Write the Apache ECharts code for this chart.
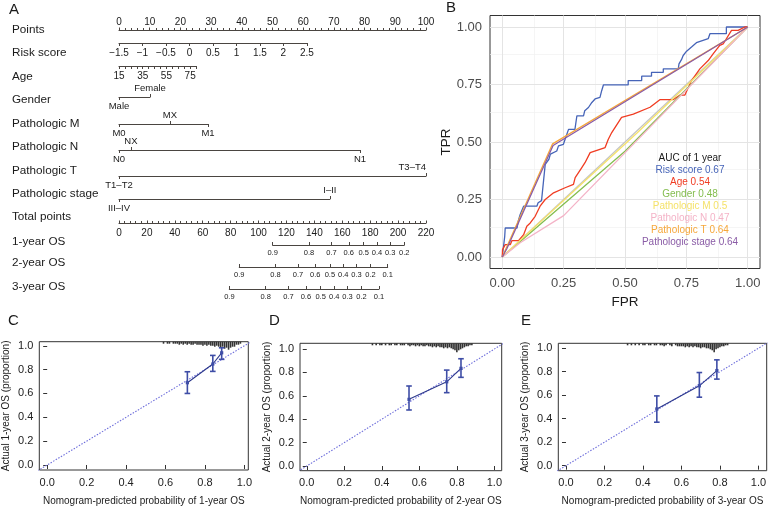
<!DOCTYPE html>
<html><head><meta charset="utf-8">
<script src="https://cdn.jsdelivr.net/npm/echarts@6/dist/echarts.min.js"></script>
<style>html,body{margin:0;padding:0;background:#fff}#c{width:771px;height:509px}</style>
</head><body><div id="c"></div>
<script>
// ================= DATA =================
// --- Nomogram (A) ---
const nomoRowNames = ['Points','Risk score','Age','Gender','Pathologic M','Pathologic N','Pathologic T','Pathologic stage','Total points','1-year OS','2-year OS','3-year OS'];
const pointsRange = [0, 100];
const riskRange = [-1.5, 2.5];
const riskPointsSpan = [0, 61.2];
const ageRange = [15, 80];
const agePointsSpan = [0, 25.1];
const ageLabelValues = [15, 35, 55, 75];
const genderCats = ['Male', 'Female'];
const genderPts = [0, 10.1];
const mCats = ['M0', 'MX', 'M1'];
const mPts = [0, 16.6, 29.0];
const nCats = ['N0', 'NX', 'N1'];
const nPts = [0, 3.9, 78.5];
const tCats = ['T1–T2', 'T3–T4'];
const tPts = [0, 100];
const stageCats = ['III–IV', 'I–II'];
const stagePts = [0, 68.7];
const totalRange = [0, 220];
const osLabels = ['0.9','0.8','0.7','0.6','0.5','0.4','0.3','0.2','0.1'];
const os1Pts = [110.1, 136.1, 152.3, 164.7, 175.3, 184.9, 194.3, 204.4];
const os2Pts = [86.2, 112.1, 128.3, 140.6, 151.1, 160.7, 170.2, 180.2, 192.5];
const os3Pts = [79.1, 105.1, 121.4, 133.9, 144.5, 154.3, 163.7, 173.8, 186.3];

// --- ROC (B) ---
const rocNames = ['Risk score','Age','Gender','Pathologic M','Pathologic N','Pathologic T','Pathologic stage'];
const rocAUC = ['0.67','0.54','0.48','0.5','0.47','0.64','0.64'];
const rocTicks = [0, 0.25, 0.5, 0.75, 1];
const rocMinorTicks = [0.125, 0.375, 0.625, 0.875];
const rocRef = [[0,0],[1,1]];
const rocRisk = [[0,0],[0.01,0.09],[0.012,0.126],[0.06,0.126],[0.066,0.16],[0.073,0.185],[0.087,0.221],[0.141,0.221],[0.146,0.236],[0.16,0.245],[0.168,0.33],[0.175,0.403],[0.19,0.425],[0.196,0.447],[0.222,0.461],[0.229,0.483],[0.249,0.49],[0.263,0.534],[0.27,0.555],[0.296,0.555],[0.304,0.614],[0.331,0.614],[0.336,0.636],[0.351,0.65],[0.365,0.672],[0.378,0.687],[0.398,0.694],[0.405,0.723],[0.412,0.748],[0.513,0.748],[0.513,0.767],[0.568,0.767],[0.568,0.786],[0.608,0.786],[0.608,0.803],[0.656,0.803],[0.656,0.818],[0.717,0.818],[0.72,0.84],[0.73,0.858],[0.737,0.876],[0.751,0.895],[0.771,0.913],[0.791,0.932],[0.839,0.949],[0.846,0.971],[0.913,0.971],[0.913,1],[1,1]];
const rocAge = [[0,0],[0.001,0.032],[0.012,0.054],[0.033,0.054],[0.039,0.071],[0.066,0.071],[0.087,0.097],[0.1,0.134],[0.114,0.148],[0.134,0.177],[0.154,0.221],[0.175,0.25],[0.209,0.279],[0.256,0.301],[0.29,0.316],[0.297,0.345],[0.324,0.389],[0.337,0.41],[0.358,0.454],[0.419,0.476],[0.432,0.512],[0.446,0.541],[0.486,0.607],[0.534,0.621],[0.602,0.651],[0.642,0.684],[0.696,0.684],[0.724,0.704],[0.744,0.704],[0.771,0.767],[0.805,0.818],[0.839,0.854],[0.859,0.883],[0.886,0.92],[0.9,0.927],[0.913,0.949],[0.934,0.985],[0.961,0.985],[0.988,1],[1,1]];
const rocGender = [[0,0],[0.5,0.46],[1,1]];
const rocM = [[0,0],[0.06,0.06],[0.55,0.54],[1,1]];
const rocN = [[0,0],[0.073,0.062],[0.25,0.18],[1,1]];
const rocT = [[0,0],[0.205,0.492],[1,1]];
const rocStage = [[0,0],[0.018,0.035],[0.207,0.485],[1,1]];

// --- Calibration (C, D, E) ---
const calTicks = [0, 0.2, 0.4, 0.6, 0.8, 1];
const calRef = [[-0.1,-0.1],[1.1,1.1]];
const cal1Pred = [0.711, 0.84, 0.885];
const cal1Obs  = [0.69, 0.847, 0.941];
const cal1Lo   = [0.60, 0.785, 0.886];
const cal1Hi   = [0.782, 0.919, 0.983];
const cal2Pred = [0.545, 0.746, 0.822];
const cal2Obs  = [0.57, 0.72, 0.835];
const cal2Lo   = [0.479, 0.627, 0.758];
const cal2Hi   = [0.684, 0.82, 0.917];
const cal3Pred = [0.472, 0.693, 0.784];
const cal3Obs  = [0.483, 0.68, 0.81];
const cal3Lo   = [0.37, 0.583, 0.737];
const cal3Hi   = [0.594, 0.793, 0.901];
const rug1 = [[0.59,2],[0.61,2],[0.62,2],[0.64,2],[0.65,2],[0.66,2],[0.67,3],[0.68,2],[0.69,3],[0.70,2],[0.71,3],[0.72,2],[0.73,3],[0.74,3],[0.75,2],[0.76,3],[0.77,3],[0.78,3],[0.79,4],[0.80,3],[0.81,4],[0.82,3],[0.83,4],[0.84,4],[0.85,5],[0.86,4],[0.87,5],[0.88,6],[0.89,5],[0.90,7],[0.91,6],[0.92,8],[0.93,6],[0.94,5],[0.95,5],[0.96,3],[0.97,3],[0.98,2]];
const rug2 = [[0.35,2],[0.37,2],[0.39,2],[0.40,2],[0.42,2],[0.44,2],[0.45,2],[0.47,2],[0.48,2],[0.50,2],[0.51,2],[0.52,2],[0.54,2],[0.55,3],[0.56,2],[0.57,2],[0.58,3],[0.59,2],[0.60,3],[0.61,2],[0.62,3],[0.63,3],[0.64,2],[0.65,3],[0.66,3],[0.67,4],[0.68,3],[0.69,4],[0.70,3],[0.71,4],[0.72,4],[0.73,5],[0.74,4],[0.75,5],[0.76,4],[0.77,5],[0.78,6],[0.79,7],[0.80,9],[0.81,7],[0.82,6],[0.83,5],[0.84,4],[0.85,3],[0.86,3],[0.87,2],[0.88,2]];
const rug3 = [[0.32,2],[0.34,2],[0.36,2],[0.38,2],[0.40,2],[0.41,2],[0.43,2],[0.44,2],[0.46,2],[0.47,2],[0.49,2],[0.50,2],[0.51,3],[0.52,2],[0.54,2],[0.55,3],[0.57,2],[0.58,3],[0.59,3],[0.60,3],[0.61,3],[0.62,4],[0.63,3],[0.64,4],[0.65,3],[0.66,4],[0.67,3],[0.68,4],[0.69,4],[0.70,5],[0.71,4],[0.72,4],[0.73,5],[0.74,5],[0.75,6],[0.76,7],[0.77,9],[0.78,6],[0.79,5],[0.80,4],[0.81,3],[0.82,3],[0.83,2],[0.84,2]];

// ================= LAYOUT / STYLE =================
const FF = "'Liberation Sans', Arial, Helvetica, sans-serif";
const NC = '#4a4541', TC = '#1a1a1a';
const NX0 = 119, NPX = 3.07, NTX = 307 / 220;
const rowLabelY = [30, 53, 77, 100, 124, 147, 171, 194, 217, 242, 263, 287];
const rowLineY  = [30, 43, 66, 97, 124, 150, 176, 199, 223, 245, 267, 289];
const rocColors = ['#4664B8','#F03C22','#84BD4F','#F5E26A','#F4B3C7','#F6A73A','#8A5CA6'];
const CAL_C = '#3E4DA6', CAL_LINE = '#2E3A8C', CAL_REF = '#6E6EDB';

const grids = [], xAxis = [], yAxis = [], series = [], graphic = [];
function addGrid(rect, ys) {
  grids.push(Object.assign({show:false, outerBoundsMode:'none', containLabel:false}, rect));
  const gi = grids.length - 1;
  const y0 = yAxis.length;
  (ys || [{show:false, min:0, max:1}]).forEach(y => yAxis.push(Object.assign({gridIndex:gi, type:'value'}, y)));
  return {g: gi, y: y0};
}
const nLine = {show:true, lineStyle:{color:NC, width:1.1}};
const lbl = (o) => Object.assign({color:TC, fontFamily:FF, fontSize:10}, o);

// Points
let r = addGrid({left:NX0, top:rowLineY[0], width:(pointsRange[1]-pointsRange[0])*NPX, height:0});
xAxis.push({gridIndex:r.g, type:'value', position:'top', min:pointsRange[0], max:pointsRange[1], interval:10,
  axisLine:nLine, axisTick:{show:true, length:2.5, lineStyle:{color:NC}},
  minorTick:{show:true, splitNumber:5, length:2, lineStyle:{color:NC}},
  axisLabel:lbl({margin:3}), splitLine:{show:false}, minorSplitLine:{show:false}});
// Risk score
r = addGrid({left:NX0+riskPointsSpan[0]*NPX, top:rowLineY[1], width:(riskPointsSpan[1]-riskPointsSpan[0])*NPX, height:0});
xAxis.push({gridIndex:r.g, type:'value', position:'bottom', min:riskRange[0], max:riskRange[1], interval:0.5,
  axisLine:nLine, axisTick:{show:true, length:3, lineStyle:{color:NC}},
  axisLabel:lbl({margin:5, formatter:v => String(v).replace('-', '−')}), splitLine:{show:false}});
// Age
r = addGrid({left:NX0+agePointsSpan[0]*NPX, top:rowLineY[2], width:(agePointsSpan[1]-agePointsSpan[0])*NPX, height:0});
xAxis.push({gridIndex:r.g, type:'value', position:'bottom', min:ageRange[0], max:ageRange[1], interval:5,
  axisLine:nLine, axisTick:{show:true, length:3, lineStyle:{color:NC}},
  axisLabel:lbl({margin:5, formatter:v => ageLabelValues.includes(v) ? String(v) : ''}), splitLine:{show:false}});

function catRow(cats, pts, aboveCats, lineY, aboveAlign) {
  const lo = Math.min(...pts), hi = Math.max(...pts);
  const rr = addGrid({left:NX0+lo*NPX, top:lineY, width:(hi-lo)*NPX, height:0});
  const ab = [], be = [];
  cats.forEach((c,i) => (aboveCats.includes(c) ? ab : be).push(pts[i]));
  const fmt = v => { let k=0, d=1e9; pts.forEach((p,i)=>{ if (Math.abs(p-v)<d){d=Math.abs(p-v);k=i;} }); return cats[k]; };
  const base = {gridIndex:rr.g, type:'value', min:lo, max:hi, splitLine:{show:false}};
  xAxis.push(Object.assign({}, base, {position:'bottom', axisLine:nLine,
    axisTick:{show:true, customValues:be, length:3, lineStyle:{color:NC}},
    axisLabel:lbl({customValues:be, formatter:fmt, margin:4, fontSize:9.5})}));
  const topLbl = lbl({customValues:ab, formatter:fmt, margin:4, fontSize:9.5});
  if (aboveAlign) topLbl.align = aboveAlign;
  xAxis.push(Object.assign({}, base, {position:'top', axisLine:{show:false},
    axisTick:{show:true, customValues:ab, length:3, lineStyle:{color:NC}}, axisLabel:topLbl}));
}
catRow(genderCats, genderPts, ['Female'], rowLineY[3]);
catRow(mCats, mPts, ['MX'], rowLineY[4]);
catRow(nCats, nPts, ['NX'], rowLineY[5]);
catRow(tCats, tPts, ['T3–T4'], rowLineY[6], 'right');
catRow(stageCats, stagePts, ['I–II'], rowLineY[7]);

// Total points
r = addGrid({left:NX0, top:rowLineY[8], width:(totalRange[1]-totalRange[0])*NTX, height:0});
xAxis.push({gridIndex:r.g, type:'value', position:'bottom', min:totalRange[0], max:totalRange[1], interval:20,
  axisLine:nLine, axisTick:{show:true, inside:true, length:2.5, lineStyle:{color:NC}},
  minorTick:{show:true, splitNumber:5, length:2, lineStyle:{color:NC}},
  axisLabel:lbl({margin:5}), splitLine:{show:false}, minorSplitLine:{show:false}});

function osRow(pts, lineY) {
  const lo = pts[0], hi = pts[pts.length-1];
  const rr = addGrid({left:NX0+lo*NTX, top:lineY, width:(hi-lo)*NTX, height:0});
  const fmt = v => { let k=0, d=1e9; pts.forEach((p,i)=>{ if (Math.abs(p-v)<d){d=Math.abs(p-v);k=i;} }); return osLabels[k]; };
  xAxis.push({gridIndex:rr.g, type:'value', position:'bottom', min:lo, max:hi, axisLine:nLine,
    axisTick:{show:true, inside:true, customValues:pts, length:3, lineStyle:{color:NC}},
    axisLabel:lbl({customValues:pts, formatter:fmt, margin:4, fontSize:7.5}), splitLine:{show:false}});
}
osRow(os1Pts, rowLineY[9]);
osRow(os2Pts, rowLineY[10]);
osRow(os3Pts, rowLineY[11]);

nomoRowNames.forEach((n,i) => graphic.push({type:'text', x:12, y:rowLabelY[i],
  style:{text:n, fill:TC, fontSize:11.7, fontFamily:FF, align:'left', verticalAlign:'middle'}}));

// ---------- ROC ----------
const roc = addGrid({left:490, top:15.5, width:270, height:253, show:true, borderColor:'#333', borderWidth:1, backgroundColor:'transparent'}, [
  {min:-0.05, max:1.05, axisLine:{show:false},
   axisTick:{show:true, customValues:rocTicks, length:4, lineStyle:{color:'#333'}},
   axisLabel:{customValues:rocTicks, formatter:v=>v.toFixed(2), fontSize:13, color:'#4d4d4d', margin:8, fontFamily:FF},
   splitLine:{show:false},
   name:'TPR', nameLocation:'middle', nameGap:37, nameTextStyle:{fontSize:13.5, color:TC, fontFamily:FF}}
]);
const rocX = xAxis.length;
xAxis.push({gridIndex:roc.g, type:'value', position:'bottom', min:-0.05, max:1.05, axisLine:{show:false},
  axisTick:{show:true, customValues:rocTicks, length:4, lineStyle:{color:'#333'}},
  axisLabel:{customValues:rocTicks, formatter:v=>v.toFixed(2), fontSize:13, color:'#4d4d4d', margin:8, fontFamily:FF},
  splitLine:{show:false},
  name:'FPR', nameLocation:'middle', nameGap:27, nameTextStyle:{fontSize:13.5, color:TC, fontFamily:FF}});
// grid lines (ggplot theme_bw style): markLine on the reference-line series, at the tick values
const gridItems = (vals, color, width) => vals.map(v=>({xAxis:v, lineStyle:{color:color, width:width, type:'solid'}}))
  .concat(vals.map(v=>({yAxis:v, lineStyle:{color:color, width:width, type:'solid'}})));
series.push({type:'line', xAxisIndex:rocX, yAxisIndex:roc.y, data:rocRef, showSymbol:false, symbol:'none',
  lineStyle:{color:'#c4c4c4', width:1.2}, clip:true, z:10,
  markLine:{silent:true, symbol:['none','none'], label:{show:false}, emphasis:{disabled:true},
    data: gridItems(rocMinorTicks, '#f0f0f0', 0.7).concat(gridItems(rocTicks, '#e4e4e4', 1))}});
[rocRisk, rocAge, rocGender, rocM, rocN, rocT, rocStage].forEach((d,i) => series.push({
  type:'line', xAxisIndex:rocX, yAxisIndex:roc.y, data:d, showSymbol:false, symbol:'none',
  lineStyle:{color:rocColors[i], width:1.3}, clip:true, z:11+i}));
graphic.push({type:'text', x:690, y:158, z:50, style:{text:'AUC of 1 year', fill:TC, fontSize:10, fontFamily:FF, align:'center', verticalAlign:'middle'}});
rocNames.forEach((n,i) => graphic.push({type:'text', x:690, y:170.1+12.1*i, z:50,
  style:{text:n+' '+rocAUC[i], fill:rocColors[i], fontSize:10, fontFamily:FF, align:'center', verticalAlign:'middle'}}));

// ---------- Calibration ----------
function calPanel(rect, xr, yr, pred, obs, lo, hi, rug, xTitle, yTitle) {
  const p = addGrid(Object.assign({show:true, borderColor:'#333', borderWidth:1, backgroundColor:'transparent'}, rect), [
    {min:yr[0], max:yr[1], axisLine:{show:false},
     axisTick:{show:true, customValues:calTicks, length:4, lineStyle:{color:'#333'}},
     axisLabel:{customValues:calTicks, formatter:v=>v.toFixed(1), fontSize:11, color:'#222', margin:6, fontFamily:FF},
     splitLine:{show:false},
     name:yTitle, nameLocation:'middle', nameGap:28, nameTextStyle:{fontSize:10, color:'#222', fontFamily:FF}},
    {min:0, max:rect.height, inverse:true, show:false}
  ]);
  const xi = xAxis.length;
  xAxis.push({gridIndex:p.g, type:'value', position:'bottom', min:xr[0], max:xr[1], axisLine:{show:false},
    axisTick:{show:true, customValues:calTicks, length:4, lineStyle:{color:'#333'}},
    axisLabel:{customValues:calTicks, formatter:v=>v.toFixed(1), fontSize:11, color:'#222', margin:7, fontFamily:FF},
    splitLine:{show:false},
    name:xTitle, nameLocation:'middle', nameGap:26, nameTextStyle:{fontSize:10, color:'#222', fontFamily:FF}});
  series.push({type:'bar', xAxisIndex:xi, yAxisIndex:p.y+1, data:rug, barWidth:1.6,
    itemStyle:{color:'#333'}, z:2});
  series.push({type:'line', xAxisIndex:xi, yAxisIndex:p.y, data:calRef, showSymbol:false, symbol:'none', clip:true,
    lineStyle:{color:CAL_REF, width:1.1, type:[1.5,1.5]}, z:3});
  series.push({type:'line', xAxisIndex:xi, yAxisIndex:p.y, data:pred.map((v,i)=>[v,obs[i]]), showSymbol:false, symbol:'none',
    lineStyle:{color:CAL_LINE, width:1.1}, z:4});
  series.push({type:'custom', xAxisIndex:xi, yAxisIndex:p.y, z:5, clip:false,
    data:pred.map((v,i)=>[v, obs[i], lo[i], hi[i]]), encode:{x:0, y:1},
    renderItem:(params, api) => {
      const c = api.coord([api.value(0), api.value(1)]);
      const a = api.coord([api.value(0), api.value(2)]);
      const b = api.coord([api.value(0), api.value(3)]);
      const w = 2.8, st = {stroke:CAL_C, lineWidth:1.6};
      return {type:'group', children:[
        {type:'line', shape:{x1:a[0], y1:a[1], x2:b[0], y2:b[1]}, style:st},
        {type:'line', shape:{x1:a[0]-w, y1:a[1], x2:a[0]+w, y2:a[1]}, style:st},
        {type:'line', shape:{x1:b[0]-w, y1:b[1], x2:b[0]+w, y2:b[1]}, style:st},
        {type:'rect', shape:{x:c[0]-1.6, y:c[1]-1.6, width:3.2, height:3.2}, style:{fill:CAL_C}}
      ]};
    }});
}
calPanel({left:39.3, top:341.7, width:209, height:128.3}, [-0.04,1.02], [-0.042,1.034],
  cal1Pred, cal1Obs, cal1Lo, cal1Hi, rug1, 'Nomogram-predicted probability of 1-year OS', 'Actual 1-year OS (proportion)');
calPanel({left:300, top:343.3, width:201.7, height:127.4}, [-0.036,1.039], [-0.04,1.049],
  cal2Pred, cal2Obs, cal2Lo, cal2Hi, rug2, 'Nomogram-predicted probability of 2-year OS', 'Actual 2-year OS (proportion)');
calPanel({left:558.3, top:343.3, width:208.4, height:127.4}, [-0.04,1.043], [-0.043,1.042],
  cal3Pred, cal3Obs, cal3Lo, cal3Hi, rug3, 'Nomogram-predicted probability of 3-year OS', 'Actual 3-year OS (proportion)');

// Panel letters
[['A',9,2],['B',446,0.5],['C',8,313.5],['D',269,313.5],['E',521,313.5]].forEach(t => graphic.push({type:'text', x:t[1], y:t[2],
  style:{text:t[0], fill:TC, fontSize:15, fontFamily:FF, align:'left', verticalAlign:'top'}}));

const chart = echarts.init(document.getElementById('c'), null, {renderer:'canvas', width:771, height:509});
chart.setOption({
  animation:false, backgroundColor:'#fff', textStyle:{fontFamily:FF},
  grid:grids, xAxis:xAxis, yAxis:yAxis, series:series, graphic:graphic
});
</script></body></html>
